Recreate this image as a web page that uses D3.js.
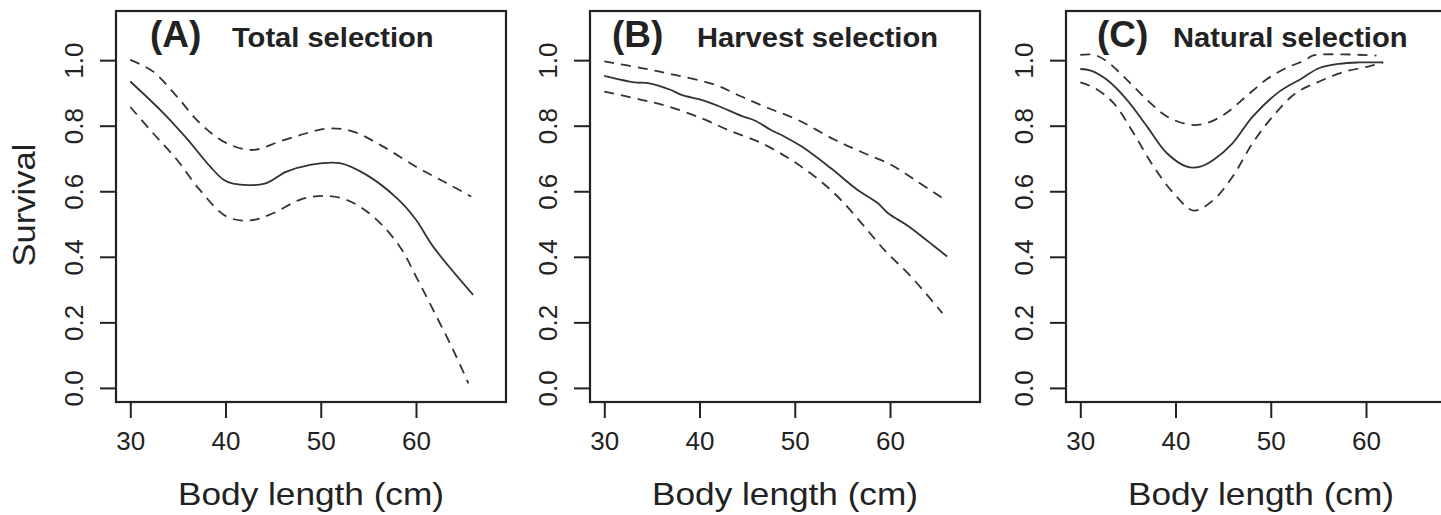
<!DOCTYPE html>
<html>
<head>
<meta charset="utf-8">
<script src="https://cdn.jsdelivr.net/npm/d3@7"></script>
<style>
  body { margin: 0; background: #fff; }
  text { font-family: "Liberation Sans", Arial, sans-serif; fill: #222; }
</style>
</head>
<body>
<div id="container"></div>
<script>
/* DATA */
const panelLetters = ["(A)", "(B)", "(C)"];
const panelTitles = ["Total selection", "Harvest selection", "Natural selection"];
const xTicks = [30, 40, 50, 60];
const yTicks = [0, 0.2, 0.4, 0.6, 0.8, 1.0];

// [body length, survival]
const totalFit = [[30,0.935],[33.5,0.838],[35.9,0.762],[38.4,0.675],[39.8,0.635],[40.8,0.623],[44.1,0.623],[46.4,0.66],[48.8,0.68],[52,0.686],[54.8,0.65],[58.1,0.576],[60,0.513],[61.8,0.431],[66,0.284]];
const totalUpper = [[30,1.001],[32.4,0.965],[34.9,0.889],[37.3,0.808],[40.1,0.747],[42.9,0.726],[45.7,0.752],[48.5,0.777],[50.9,0.792],[53.4,0.782],[56.5,0.737],[60,0.675],[63.2,0.625],[65.8,0.584]];
const totalLower = [[30,0.857],[32.4,0.777],[34.9,0.696],[37.3,0.604],[40.1,0.523],[42.6,0.511],[45,0.533],[47.8,0.574],[50.2,0.586],[52.7,0.574],[55.5,0.523],[58.3,0.431],[60,0.34],[61.8,0.238],[63.9,0.116],[65.5,0.014]];

const harvestFit = [[30,0.952],[33.2,0.932],[34.6,0.93],[37,0.909],[38.1,0.894],[40.2,0.879],[41.9,0.861],[44.4,0.83],[45.8,0.816],[47.5,0.787],[48.9,0.767],[50.7,0.737],[53.8,0.67],[56.6,0.604],[58.7,0.564],[59.8,0.533],[61.9,0.494],[64,0.447],[66,0.401]];
const harvestUpper = [[30,0.996],[33.9,0.976],[37.4,0.955],[41.6,0.925],[44.4,0.889],[47.2,0.854],[50.3,0.818],[54.2,0.757],[57.3,0.716],[60.1,0.681],[62.6,0.635],[65.5,0.579]];
const harvestLower = [[30,0.904],[33.9,0.879],[36.7,0.859],[40.2,0.823],[43,0.787],[46.5,0.747],[49.6,0.696],[52.1,0.645],[54.5,0.584],[57,0.503],[59.4,0.421],[62.2,0.34],[65.5,0.228]];

const naturalFit = [[30,0.973],[31.1,0.968],[32.8,0.94],[34.9,0.879],[37,0.798],[39.1,0.716],[41.2,0.675],[42.6,0.675],[44,0.696],[46,0.747],[48.1,0.828],[50.9,0.904],[53.3,0.945],[55.1,0.976],[57.2,0.989],[59.2,0.993],[61.8,0.993]];
const naturalUpper = [[30,1.016],[31.5,1.016],[32.8,0.996],[34.9,0.94],[37,0.879],[39.1,0.828],[41.5,0.803],[43.3,0.808],[45.3,0.838],[47.4,0.889],[49.5,0.94],[51.6,0.976],[53.7,1.001],[54.4,1.014],[61.1,1.014]];
const naturalLower = [[30,0.932],[31.5,0.915],[33.5,0.869],[35.6,0.777],[37.7,0.675],[39.8,0.594],[41.9,0.541],[44,0.574],[46,0.645],[48.1,0.747],[50.2,0.828],[52.6,0.899],[55.1,0.935],[57.8,0.965],[60.3,0.981],[61.8,0.993]];

const fits = [totalFit, harvestFit, naturalFit];
const uppers = [totalUpper, harvestUpper, naturalUpper];
const lowers = [totalLower, harvestLower, naturalLower];

/* LAYOUT */
const width = 1441, height = 515;
const boxW = 390, boxTop = 11, boxBottom = 402;
const panelLeft = [116, 590, 1066];
const letterOffset = [34, 22, 31];
const titleOffset = [116, 107, 107];

const svg = d3.select("#container").append("svg")
  .attr("width", width)
  .attr("height", height);

svg.append("rect").attr("width", width).attr("height", height).attr("fill", "#fff");

const yScale = d3.scaleLinear()
  .domain([-0.043, 1.150])
  .range([boxBottom, boxTop]);

const line = d3.line()
  .x(d => d[0])
  .y(d => d[1])
  .curve(d3.curveCatmullRom);

panelLeft.forEach((left, i) => {
  const xScale = d3.scaleLinear()
    .domain([28.5, 69.45])
    .range([left, left + boxW]);

  const g = svg.append("g");

  // lines
  const toPx = arr => arr.map(d => [xScale(d[0]), yScale(d[1])]);
  [uppers[i], lowers[i]].forEach(arr => {
    g.append("path")
      .attr("d", line(toPx(arr)))
      .attr("fill", "none")
      .attr("stroke", "#333")
      .attr("stroke-width", 1.8)
      .attr("stroke-dasharray", "10,7");
  });
  g.append("path")
    .attr("d", line(toPx(fits[i])))
    .attr("fill", "none")
    .attr("stroke", "#333")
    .attr("stroke-width", 1.8);

  // axes
  const xAxis = d3.axisBottom(xScale).tickValues(xTicks).tickSize(16).tickPadding(14).tickFormat(d3.format("d"));
  const xg = g.append("g")
    .attr("transform", `translate(0,${boxBottom})`)
    .call(xAxis);
  xg.select(".domain").remove();
  xg.selectAll(".tick line").attr("stroke", "#222").attr("stroke-width", 2);
  xg.selectAll(".tick text").attr("font-size", 26).attr("fill", "#222")
    .attr("font-family", "Liberation Sans, Arial, sans-serif");

  const yAxis = d3.axisLeft(yScale).tickValues(yTicks).tickSize(16).tickPadding(16).tickFormat(d3.format(".1f"));
  const yg = g.append("g")
    .attr("transform", `translate(${left},0)`)
    .call(yAxis);
  yg.select(".domain").remove();
  yg.selectAll(".tick line").attr("stroke", "#222").attr("stroke-width", 2);
  yg.selectAll(".tick text")
    .attr("font-size", 26).attr("fill", "#222")
    .attr("font-family", "Liberation Sans, Arial, sans-serif")
    .attr("x", null).attr("dy", null)
    .attr("text-anchor", "middle")
    .attr("transform", "translate(-33,0) rotate(-90)");

  // box
  g.append("rect")
    .attr("x", left).attr("y", boxTop)
    .attr("width", boxW).attr("height", boxBottom - boxTop)
    .attr("fill", "none").attr("stroke", "#222").attr("stroke-width", 2.2);

  // titles
  g.append("text")
    .attr("x", left + letterOffset[i]).attr("y", 47)
    .attr("font-size", 37).attr("font-weight", "bold")
    .text(panelLetters[i]);
  g.append("text")
    .attr("transform", `translate(${left + titleOffset[i]},47) scale(1.04,1)`)
    .attr("font-size", 28).attr("font-weight", "bold")
    .text(panelTitles[i]);

  // x axis title
  g.append("text")
    .attr("transform", `translate(${left + boxW / 2},505) scale(1.1,1)`)
    .attr("text-anchor", "middle")
    .attr("font-size", 32)
    .text("Body length (cm)");
});

// y axis title
svg.append("text")
  .attr("transform", "translate(35,205) rotate(-90) scale(1.08,1)")
  .attr("text-anchor", "middle")
  .attr("font-size", 32)
  .text("Survival");
</script>
</body>
</html>
